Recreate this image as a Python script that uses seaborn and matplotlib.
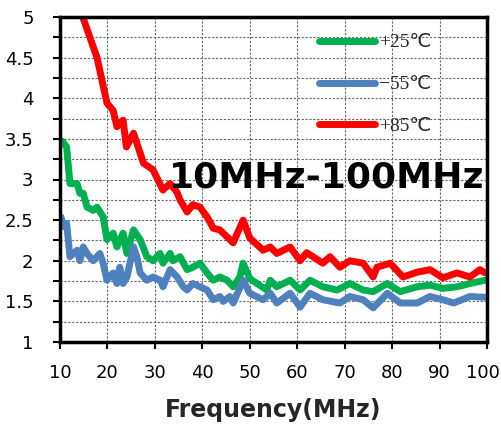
import matplotlib
matplotlib.use("Agg")
import matplotlib.pyplot as plt
import matplotlib.transforms as mtransforms
import seaborn as sns
import numpy as np
import pandas as pd
from matplotlib.ticker import MultipleLocator
from matplotlib.font_manager import FontProperties

# ---- data ----
labels = ["+25℃", "−55℃", "+85℃"]
colors = ["#00B050", "#4F81BD", "#FF0000"]

f_25 = [10.5, 11.4, 12.1, 13.6, 14.2, 14.9, 15.7, 17.0, 17.8, 19.1, 19.9, 21.2, 22.0, 23.3, 24.1,
        25.5, 26.9, 28.3, 29.6, 31.1, 31.7, 33.2, 33.8, 35.3, 36.8, 38.0, 39.5, 41.0, 42.3, 43.7,
        45.2, 46.5, 47.9, 48.6, 50.0, 53.6, 54.3, 55.7, 58.5, 60.6, 62.7, 65.4, 68.4, 71.1, 73.9,
        76.0, 79.0, 81.7, 85.3, 88.0, 90.7, 93.7, 96.4, 99.6]
v_25 = [3.47, 3.4, 2.95, 2.95, 2.83, 2.83, 2.66, 2.62, 2.66, 2.54, 2.26, 2.34, 2.17, 2.34, 2.09,
        2.38, 2.26, 2.05, 2.0, 2.09, 1.97, 2.09, 2.0, 2.05, 1.89, 1.92, 1.97, 1.85, 1.76, 1.8,
        1.76, 1.68, 1.8, 1.97, 1.78, 1.64, 1.76, 1.68, 1.76, 1.64, 1.76, 1.68, 1.64, 1.72, 1.64,
        1.62, 1.72, 1.62, 1.68, 1.7, 1.66, 1.68, 1.72, 1.76]

f_m55 = [10.2, 10.7, 11.4, 12.1, 13.6, 14.2, 14.9, 15.7, 17.0, 18.4, 19.1, 19.9, 21.2, 22.0, 22.6,
         23.3, 24.1, 25.5, 26.2, 26.9, 28.3, 29.6, 31.1, 31.7, 33.2, 34.7, 36.0, 36.8, 38.0, 39.5,
         41.0, 42.3, 43.7, 44.4, 45.8, 46.5, 48.6, 50.0, 52.8, 54.3, 55.7, 58.5, 60.6, 62.7, 65.4,
         69.0, 71.1, 73.9, 76.0, 79.0, 81.7, 85.3, 88.0, 90.7, 93.0, 96.4, 99.6]
v_m55 = [2.54, 2.42, 2.46, 2.05, 2.13, 2.0, 2.17, 2.09, 2.0, 2.09, 1.97, 1.76, 1.85, 1.72, 1.92,
         1.72, 1.8, 2.17, 2.05, 1.85, 1.76, 1.8, 1.76, 1.68, 1.89, 1.8, 1.68, 1.64, 1.72, 1.68,
         1.64, 1.52, 1.56, 1.5, 1.56, 1.48, 1.76, 1.6, 1.52, 1.6, 1.48, 1.6, 1.43, 1.6, 1.52,
         1.48, 1.56, 1.52, 1.42, 1.6, 1.48, 1.48, 1.56, 1.52, 1.48, 1.56, 1.55]

f_85 = [14.8, 16.3, 17.8, 19.9, 21.2, 22.0, 23.3, 24.0, 25.5, 27.6, 29.6, 31.7, 33.2, 34.6, 35.3,
        36.8, 38.0, 39.5, 41.0, 42.3, 43.7, 44.4, 46.5, 48.6, 50.0, 52.8, 54.3, 55.7, 58.5, 60.6,
        62.0, 65.4, 66.9, 69.0, 71.1, 73.9, 76.0, 76.8, 79.6, 82.3, 85.3, 88.0, 90.7, 93.7, 96.4,
        98.5, 99.6]
v_85 = [5.0, 4.75, 4.5, 3.94, 3.85, 3.65, 3.73, 3.4, 3.57, 3.2, 3.12, 2.87, 2.95, 2.85, 2.75,
        2.6, 2.69, 2.66, 2.54, 2.4, 2.38, 2.34, 2.22, 2.5, 2.28, 2.13, 2.17, 2.09, 2.17, 2.0,
        2.1, 1.97, 2.05, 1.92, 2.0, 1.97, 1.8, 1.92, 1.97, 1.8, 1.86, 1.89, 1.79, 1.85, 1.8,
        1.89, 1.85]

x_ticks = [10, 20, 30, 40, 50, 60, 70, 80, 90, 100]
y_ticks = [1, 1.5, 2, 2.5, 3, 3.5, 4, 4.5, 5]
x_label = "Frequency(MHz)"
annotation = "10MHz-100MHz"

frames = []
for lab, fx, vy in zip(labels, [f_25, f_m55, f_85], [v_25, v_m55, v_85]):
    frames.append(pd.DataFrame({"freq": fx, "val": vy, "temp": lab}))
df = pd.concat(frames, ignore_index=True)

sns.set_theme(style="ticks")
plt.rcParams["font.family"] = ["DejaVu Sans"]

fig = plt.figure(figsize=(5.02, 4.24), dpi=100)
ax = fig.add_axes([60 / 502, 1 - 342 / 424, 427 / 502, 325 / 424])

# dashed grid drawn from the tick positions (every 10 in x, every 0.25 in y)
grid_kw = dict(linestyle=(0, (2, 1.5)), color="#666666", linewidth=0.8, zorder=1)
for gx in x_ticks[1:-1]:
    ax.axvline(gx, **grid_kw)
y_minor = np.arange(y_ticks[0], y_ticks[-1] + 1e-9, 0.25)
for gy in y_minor[1:-1]:
    ax.axhline(gy, **grid_kw)

sns.lineplot(data=df, x="freq", y="val", hue="temp", hue_order=labels,
             palette=dict(zip(labels, colors)), estimator=None, sort=False,
             linewidth=5.0, ax=ax, legend=True, zorder=3)
for ln in ax.get_lines():
    if ln.get_linewidth() >= 4:
        ln.set_solid_capstyle("round")
        ln.set_solid_joinstyle("round")

ax.set_xlim(10, 100)
ax.set_ylim(1, 5)
ax.set_xticks(x_ticks)
ax.set_xticklabels([str(t) for t in x_ticks])
ax.set_yticks(y_ticks)
ax.set_yticklabels([f"{t:g}" for t in y_ticks])
ax.yaxis.set_minor_locator(MultipleLocator(0.25))

for s in ax.spines.values():
    s.set_color("black")
    s.set_linewidth(2.5)
    s.set_visible(True)
    s.set_zorder(5)

ax.tick_params(axis="y", which="major", direction="out", length=5, width=1.5,
               labelsize=13, colors="black", left=True, right=False, pad=14)
ax.tick_params(axis="y", which="minor", direction="out", length=5, width=1.5,
               color="black", left=True, right=False)
ax.tick_params(axis="x", which="major", direction="out", length=5, width=1.5,
               labelsize=13, colors="black", bottom=True, top=False, pad=11)

# keep the last x label inside the picture
last = ax.get_xticklabels()[-1]
last.set_transform(last.get_transform() +
                   mtransforms.ScaledTranslation(-4 / 100, 0, fig.dpi_scale_trans))

ax.set_xlabel(x_label, fontsize=17, fontweight="bold", labelpad=11)
ax.set_ylabel("")

ax.text(66.3, 3.02, annotation, fontsize=26, fontweight="bold",
        family=["DejaVu Sans"], ha="center", va="center", color="black", zorder=4)

handles, _ = ax.get_legend_handles_labels()
leg_font = FontProperties(family=["Liberation Serif", "DejaVu Sans"], size=14)
ax.legend(handles[-3:], labels, loc="upper left",
          bbox_to_anchor=((311 - 60) / 427, 1 - (26 - 17) / 325),
          frameon=False, prop=leg_font, handlelength=2.9, handletextpad=0.2,
          labelspacing=1.25, borderaxespad=0)

fig.savefig("out.png", dpi=100)
